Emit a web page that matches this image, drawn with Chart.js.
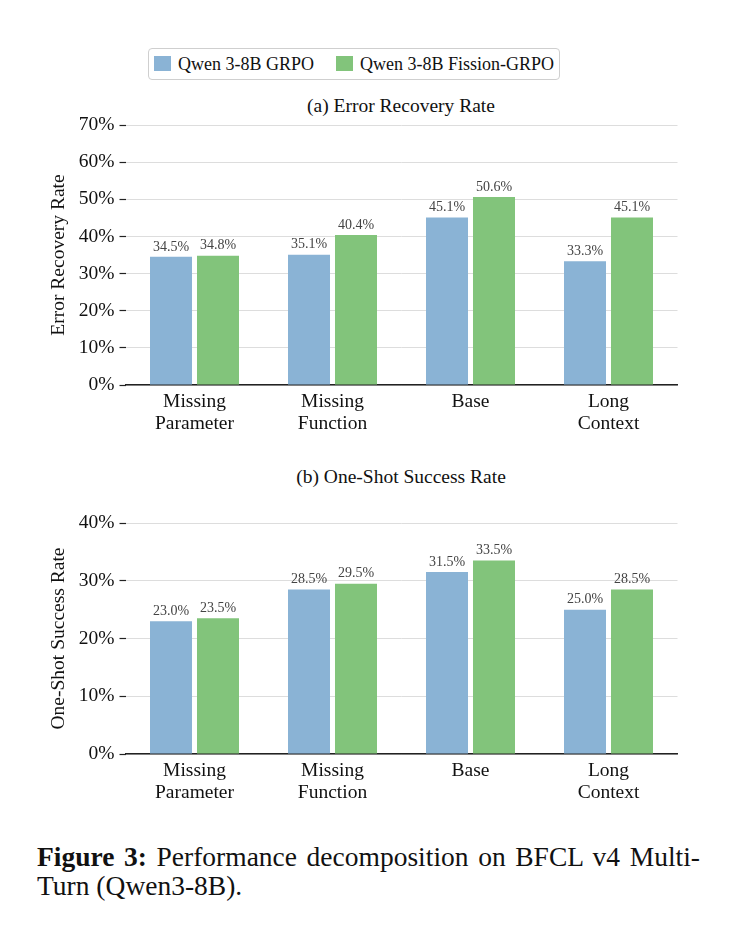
<!DOCTYPE html>
<html>
<head>
<meta charset="utf-8">
<script src="https://cdn.jsdelivr.net/npm/chart.js@4.4.1/dist/chart.umd.min.js"></script>
<style>
  body { margin: 0; background: #fff; width: 732px; height: 927px; position: relative; overflow: hidden;
         font-family: "Liberation Serif", "Times New Roman", serif; color: #111; }
  .box { position: absolute; }
  .title { position: absolute; font-size: 19.5px; transform: translate(-50%, -50%); white-space: nowrap; }
  #legend { position: absolute; left: 148px; top: 48px; width: 410px; height: 30px; border: 1.5px solid #cfcfcf;
            border-radius: 4px; font-size: 18px; white-space: nowrap; }
  .swatch { position: absolute; top: 7px; width: 17px; height: 15px; }
  .ltext { position: absolute; top: 15px; transform: translateY(-50%); }
  #caption { position: absolute; left: 37px; top: 842px; font-size: 27.5px; width: 663px; line-height: 29px; }
  #caption .l1 { text-align: justify; text-align-last: justify; }
</style>
</head>
<body>
<div id="legend"></div>
<div class="title" style="left:401px; top:106px">(a) Error Recovery Rate</div>
<div class="box" style="left:0; top:90px; width:732px; height:360px"><canvas id="recovery"></canvas></div>
<div class="title" style="left:401px; top:477px">(b) One-Shot Success Rate</div>
<div class="box" style="left:0; top:460px; width:732px; height:360px"><canvas id="oneshot"></canvas></div>
<div id="caption">
  <div class="l1"><b>Figure 3:</b> Performance decomposition on BFCL v4 Multi-</div>
  <div>Turn (Qwen3-8B).</div>
</div>
<script>
// data
const categories = [['Missing', 'Parameter'], ['Missing', 'Function'], 'Base', ['Long', 'Context']];
const seriesNames = ['Qwen 3-8B GRPO', 'Qwen 3-8B Fission-GRPO'];
const seriesColors = ['#8ab3d5', '#82c47b'];
const grpoRecovery = [34.5, 35.1, 45.1, 33.3];
const fissionRecovery = [34.8, 40.4, 50.6, 45.1];
const grpoOneShot = [23.0, 28.5, 31.5, 25.0];
const fissionOneShot = [23.5, 29.5, 33.5, 28.5];
const recoveryMax = 70;
const oneShotMax = 40;

const FONT = '"Liberation Serif", "Times New Roman", serif';

// legend (html)
const legend = document.getElementById('legend');
const legendX = [5, 187];
seriesNames.forEach((name, i) => {
  const sw = document.createElement('span');
  sw.className = 'swatch';
  sw.style.left = legendX[i] + 'px';
  sw.style.background = seriesColors[i];
  const tx = document.createElement('span');
  tx.className = 'ltext';
  tx.style.left = (legendX[i] + 24) + 'px';
  tx.textContent = name;
  legend.appendChild(sw);
  legend.appendChild(tx);
});

// value labels above bars
const valueLabels = {
  id: 'valueLabels',
  afterDatasetsDraw(chart) {
    const ctx = chart.ctx;
    ctx.save();
    ctx.font = '14px ' + FONT;
    ctx.fillStyle = '#444';
    ctx.textAlign = 'center';
    ctx.textBaseline = 'bottom';
    chart.data.datasets.forEach((ds, di) => {
      chart.getDatasetMeta(di).data.forEach((bar, i) => {
        ctx.fillText(ds.data[i].toFixed(1) + '%', bar.x, bar.y - 3);
      });
    });
    ctx.restore();
  }
};

function makeChart(id, a, b, max, yTitle, padTop, xHeight) {
  const ctx = document.getElementById(id).getContext('2d');
  return new Chart(ctx, {
    type: 'bar',
    data: {
      labels: categories,
      datasets: [a, b].map((d, i) => ({
        label: seriesNames[i],
        data: d,
        backgroundColor: seriesColors[i],
        borderWidth: 0,
        categoryPercentage: 0.681,
        barPercentage: 0.894
      }))
    },
    options: {
      responsive: true,
      maintainAspectRatio: false,
      animation: false,
      layout: { padding: { top: padTop, right: 54.5, left: 0, bottom: 0 } },
      plugins: { legend: { display: false }, tooltip: { enabled: false } },
      scales: {
        x: {
          grid: { display: false, drawTicks: false },
          border: { display: true, color: '#222', width: 1.5 },
          ticks: { color: '#111', font: { family: FONT, size: 19.5, lineHeight: 1.12 }, padding: 6, maxRotation: 0 },
          afterFit(s) { s.height = xHeight; }
        },
        y: {
          min: 0, max: max,
          border: { display: false },
          grid: { color: '#dddddd', lineWidth: 1, tickColor: '#222', tickLength: 6, tickWidth: 1.2 },
          ticks: { stepSize: 10, color: '#111', padding: 5, font: { family: FONT, size: 19.5 },
                   callback: v => v + '%' },
          title: { display: true, text: yTitle, color: '#111', font: { family: FONT, size: 19.5 },
                   padding: { top: 47, bottom: 0 } },
          afterFit(s) { s.width = 125.5; }
        }
      }
    },
    plugins: [valueLabels]
  });
}

makeChart('recovery', grpoRecovery, fissionRecovery, recoveryMax, 'Error Recovery Rate', 35, 65);
makeChart('oneshot', grpoOneShot, fissionOneShot, oneShotMax, 'One-Shot Success Rate', 63, 66);
</script>
</body>
</html>
